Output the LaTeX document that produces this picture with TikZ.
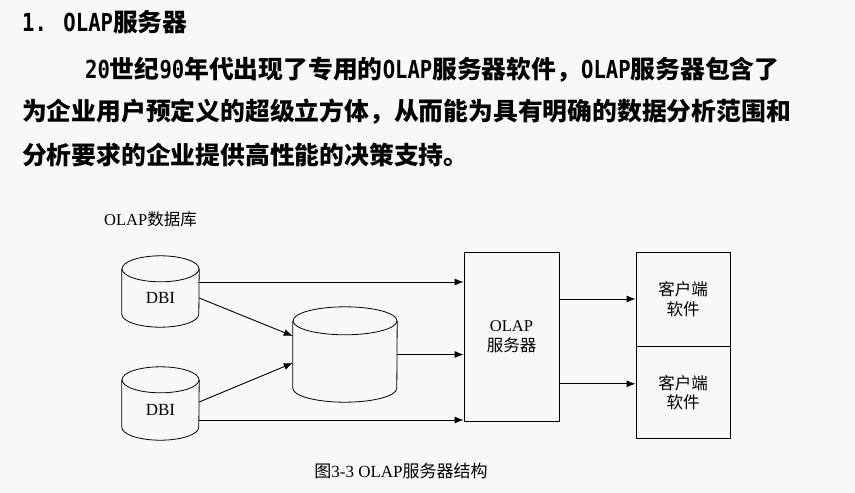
\documentclass[tikz,border=0pt]{standalone}
\usepackage{fontspec}
\setmainfont{Liberation Serif}
\newfontfamily\cjk{Noto Sans CJK SC}
\newfontfamily\hw[FakeStretch=0.83]{DejaVu Sans Mono}
\usetikzlibrary{shapes.geometric,arrows.meta,positioning,calc}
\definecolor{pagebg}{RGB}{248,248,248}
\tikzstyle{BODYTEXT} = [anchor=west, inner sep=0pt, font=\cjk\bfseries\fontsize{24.8}{24.8}\selectfont]
\tikzstyle{DB} = [rectangle, inner sep=0pt, font=\fontsize{17}{17}\selectfont]
\tikzstyle{DBLINE} = [draw, line width=0.8pt]
\tikzstyle{BOX} = [rectangle, draw, align=center, inner sep=0pt, line width=0.8pt, font=\fontsize{16.5}{19.5}\selectfont]
\tikzstyle{ARROW} = [draw, line width=0.9pt, -{Latex[length=9pt,width=7pt]}]
\newcommand{\half}[1]{{\hw\bfseries #1}}
% cylinder outline round a node: name, x radius, y radius
\newcommand{\drawdb}[3]{%
  \draw [DBLINE] ($(#1.north)+(0,#3)$) ellipse [x radius=#2pt, y radius=#3pt];
  \draw [DBLINE] ($(#1.north west)+(0,#3)$) -- ($(#1.south west)+(0,-#3)$)
    arc [start angle=180, end angle=360, x radius=#2pt, y radius=#3pt] -- ($(#1.north east)+(0,#3)$);
}

\begin{document}
\begin{tikzpicture}[x=1pt, y=-1pt]
\useasboundingbox (0,0) rectangle (855,493);
\fill [pagebg] (0,0) rectangle (855,493);
% Text above the figure
\node [BODYTEXT] (title) at (22,22) {\half{1. OLAP}服务器};
\node [BODYTEXT] (line_1) at (85,70) {\half{20}世纪\half{90}年代出现了专用的\half{OLAP}服务器软件，\half{OLAP}服务器包含了};
\node [BODYTEXT] (line_2) at (22,112) {为企业用户预定义的超级立方体，从而能为具有明确的数据分析范围和};
\node [BODYTEXT] (line_3) at (22,155) {分析要求的企业提供高性能的决策支持。};
% Place nodes
\node [anchor=west, inner sep=0pt, font=\fontsize{16.5}{16.5}\selectfont] (db_label) at (104,219) {OLAP{\cjk 数据库}};
\node [DB, minimum width=77pt, minimum height=71pt, label={[font=\fontsize{17}{17}\selectfont, yshift=-6pt]center:DBI}] (dbi_1) at (160.5,291.5) {};
\node [DB, minimum width=77pt, minimum height=73pt, label={[font=\fontsize{17}{17}\selectfont, yshift=-6pt]center:DBI}] (dbi_2) at (160.5,403.5) {};
\node [DB, minimum width=104pt, minimum height=95pt] (cube) at (345,354.5) {};
\node [BOX, minimum width=95pt, minimum height=169pt] (server) at (511.5,336.5) {OLAP\\{\cjk 服务器}};
\node [BOX, minimum width=94pt, minimum height=94pt] (client_1) at (683,299) {{\cjk 客户端}\\{\cjk 软件}};
\node [BOX, minimum width=94pt, minimum height=92pt, below=0pt of client_1] (client_2) {{\cjk 客户端}\\{\cjk 软件}};
\node [inner sep=0pt, font=\fontsize{17}{17}\selectfont] (caption) at (401,471) {{\cjk 图}3-3 OLAP{\cjk 服务器结构}};
% Cylinders
\drawdb{dbi_1}{38.5}{13}
\drawdb{dbi_2}{38.5}{13}
\drawdb{cube}{52}{14}
% Arrow ends
\coordinate (s_1) at ($(dbi_1.east)+(0,-9.5)$);
\coordinate (s_2) at ($(dbi_1.east)+(0,6.5)$);
\coordinate (s_3) at ($(dbi_2.east)+(0,-1.5)$);
\coordinate (s_4) at ($(dbi_2.east)+(0,16.5)$);
\coordinate (t_2) at ($(cube.west)+(0,-18.5)$);
\coordinate (t_3) at ($(cube.west)+(0,8.5)$);
\coordinate (c_2) at ($(client_2.west)+(0,-9)$);
% LINES and ARROWS
\path [ARROW] (s_1) -- (s_1 -| server.west);
\path [ARROW] (s_2) -- (t_2);
\path [ARROW] (s_3) -- (t_3);
\path [ARROW] (cube.east) -- (cube.east -| server.west);
\path [ARROW] (s_4) -- (s_4 -| server.west);
\path [ARROW] (client_1.west -| server.east) -- (client_1.west);
\path [ARROW] (c_2 -| server.east) -- (c_2);
\end{tikzpicture}
\end{document}
